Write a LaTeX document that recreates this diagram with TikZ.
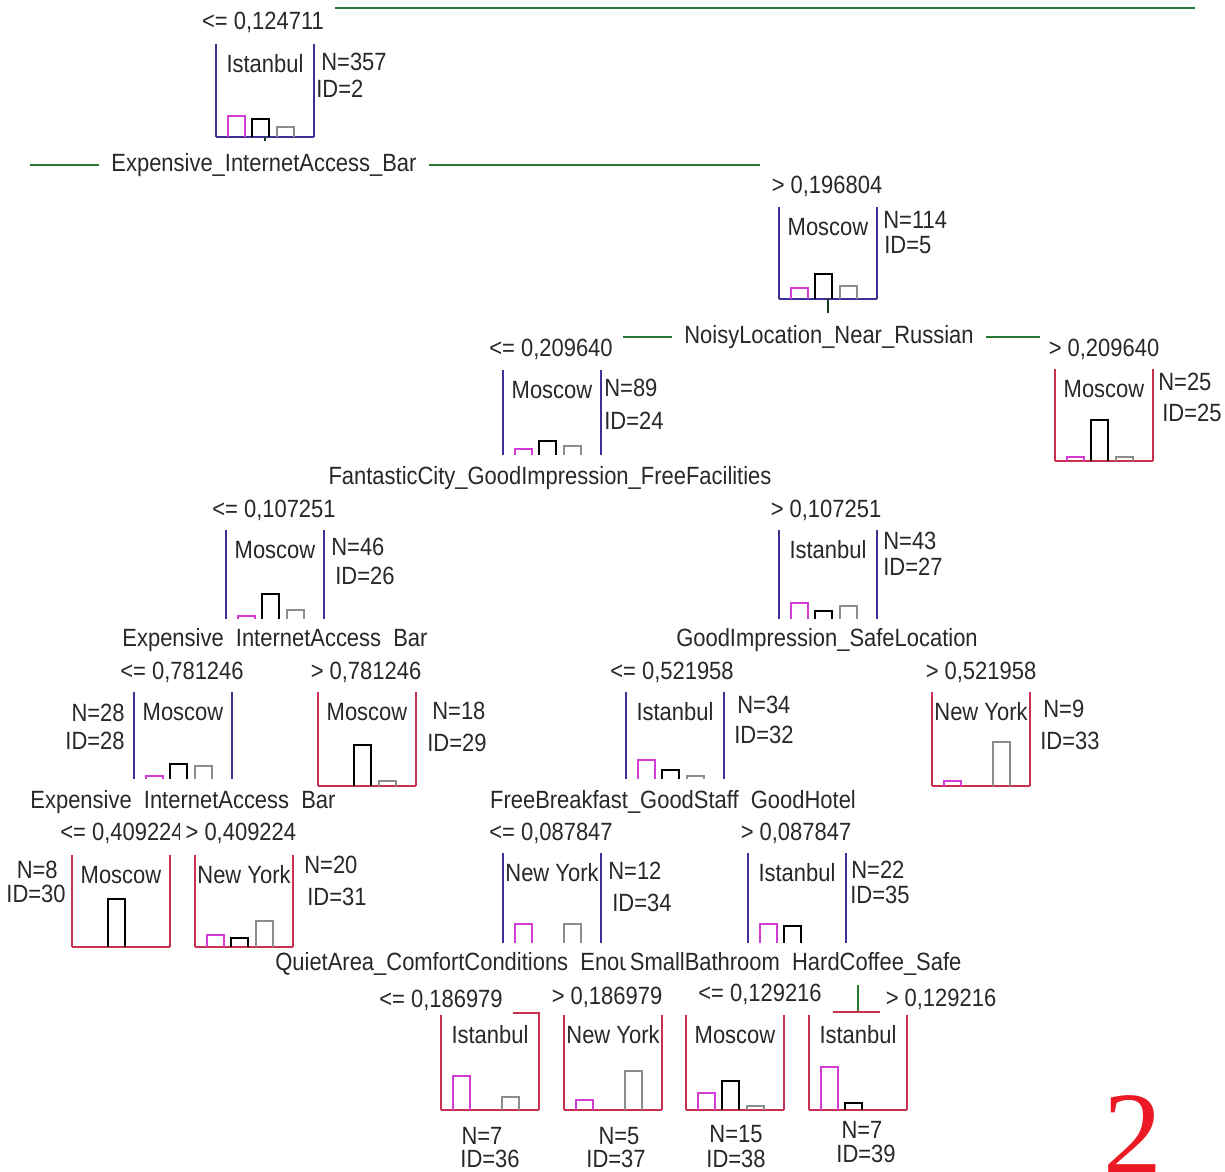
\documentclass[tikz,border=0pt]{standalone}
\usepackage{fontspec}
\setmainfont{Liberation Sans}[FakeStretch=0.88]
\newfontfamily\twofont{Liberation Serif}
\usepackage{xcolor}
\usepackage{tikz}
\usetikzlibrary{calc,positioning}

\definecolor{boxblue}{RGB}{60,50,150}
\definecolor{boxred}{RGB}{200,50,80}
\definecolor{barmag}{RGB}{210,60,210}
\definecolor{bargray}{RGB}{140,140,140}
\definecolor{linegreen}{RGB}{40,120,50}
\definecolor{textgray}{RGB}{40,40,40}
\definecolor{twored}{RGB}{235,25,35}

\newcommand{\treefont}{\fontsize{14.2}{16}\selectfont}
\newcommand{\hu}{\phantom{\_}}

\tikzset{
  txt/.style={inner sep=0pt, text=textgray, font=\treefont},
  splitlabel/.style={txt, inner xsep=0.25cm},
  inner/.style={draw=boxblue, line width=0.9pt},
  leaf/.style={draw=boxred, line width=0.9pt},
  base/.style={},
  cut/.style={inner, base/.style={draw=none}},
  mbar/.style={draw=barmag, line width=0.9pt},
  kbar/.style={draw=black, line width=0.9pt},
  gbar/.style={draw=bargray, line width=0.9pt},
  split/.style={draw=linegreen, line width=0.9pt},
  stem/.style={draw=linegreen!50!black, line width=0.9pt},
}

% tree node: name, box style, left x, top y, bottom y, class, bar heights
\newcommand{\tnode}[9]{%
  \coordinate (#1-nw) at (#3,#4);
  \coordinate (#1-sw) at (#3,#5);
  \coordinate (#1-ne) at ({#3+98},#4);
  \coordinate (#1-se) at ({#3+98},#5);
  \coordinate (#1-s) at ({#3+49},#5);
  \draw[#2] (#1-nw) -- (#1-sw) (#1-se) -- (#1-ne);
  \draw[#2,base] (#1-sw) -- (#1-se);
  \node[txt] (#1-cls) at ({#3+49},{#4+20}) {#6};
  \ifdim #7pt>0pt \draw[mbar] ({#3+12},#5) |- ({#3+29},{#5-#7}) -- ({#3+29},#5);\fi
  \ifdim #8pt>0pt \draw[kbar] ({#3+36},#5) |- ({#3+53},{#5-#8}) -- ({#3+53},#5);\fi
  \ifdim #9pt>0pt \draw[gbar] ({#3+61},#5) |- ({#3+78},{#5-#9}) -- ({#3+78},#5);\fi
}

\begin{document}
\begin{tikzpicture}[x=0.02cm, y=-0.02cm]
\useasboundingbox (0,0) rectangle (1225,1172);
\clip (0,0) rectangle (1225,1172);

\coordinate (r0) at (335,8);
\coordinate (r1) at (1195,8);
\draw[split] (r0) -- (r1);

\tnode{b2}{inner}{216}{44}{137}{Istanbul}{21}{18}{10}
\node[txt] (t2) at (263,22) {<= 0,124711};
\node[txt, anchor=west] (n2) at (321,62) {N=357};
\node[txt, anchor=west] (i2) at (316,89) {ID=2};
\coordinate (st2) at (265,141);
\draw[stem] (b2-s) -- (st2);

\node[splitlabel] (s1) at (264,165) {Expensive\_InternetAccess\_Bar};
\coordinate (s1l) at (30,165);
\coordinate (s1r) at (760,165);
\draw[split] (s1l) -- (s1.west);
\draw[split] (s1.east) -- (s1r);

\tnode{b5}{inner}{779}{207}{299}{Moscow}{11}{25}{13}
\node[txt] (t5) at (827,186) {> 0,196804};
\node[txt, anchor=west] (n5) at (883,220) {N=114};
\node[txt, anchor=west] (i5) at (884,245) {ID=5};
\coordinate (st5) at (828,313);
\draw[stem] (b5-s) -- (st5);

\node[splitlabel] (s2) at (829,337) {NoisyLocation\_Near\_Russian};
\coordinate (s2l) at (623,337);
\coordinate (s2r) at (1040,337);
\draw[split] (s2l) -- (s2.west);
\draw[split] (s2.east) -- (s2r);

\tnode{b24}{cut}{503}{370}{455}{Moscow}{6}{14}{9}
\node[txt] (t24) at (551,349) {<= 0,209640};
\node[txt, anchor=west] (n24) at (604,388) {N=89};
\node[txt, anchor=west] (i24) at (604,421) {ID=24};

\tnode{b25}{leaf}{1055}{369}{461}{Moscow}{4}{41}{4}
\node[txt] (t25) at (1104,349) {> 0,209640};
\node[txt, anchor=west] (n25) at (1158,382) {N=25};
\node[txt, anchor=west] (i25) at (1162,413) {ID=25};

\node[splitlabel] (s3) at (550,478) {FantasticCity\_GoodImpression\_FreeFacilities};

\tnode{b26}{cut}{226}{530}{619}{Moscow}{3}{25}{9}
\node[txt] (t26) at (274,510) {<= 0,107251};
\node[txt, anchor=west] (n26) at (331,547) {N=46};
\node[txt, anchor=west] (i26) at (335,576) {ID=26};

\tnode{b27}{cut}{779}{530}{619}{Istanbul}{16}{8}{13}
\node[txt] (t27) at (826,510) {> 0,107251};
\node[txt, anchor=west] (n27) at (883,541) {N=43};
\node[txt, anchor=west] (i27) at (883,567) {ID=27};

\node[splitlabel] (s4) at (275,640) {Expensive\hu InternetAccess\hu Bar};
\node[splitlabel] (s5) at (827,640) {GoodImpression\_SafeLocation};

\tnode{b28}{cut}{134}{692}{779}{Moscow}{3}{15}{13}
\node[txt] (t28) at (182,672) {<= 0,781246};
\node[txt, anchor=east] (n28) at (125,713) {N=28};
\node[txt, anchor=east] (i28) at (125,741) {ID=28};

\tnode{b29}{leaf}{318}{692}{786}{Moscow}{0}{41}{5}
\node[txt] (t29) at (366,672) {> 0,781246};
\node[txt, anchor=west] (n29) at (432,711) {N=18};
\node[txt, anchor=west] (i29) at (427,743) {ID=29};

\tnode{b32}{cut}{626}{692}{779}{Istanbul}{19}{9}{3}
\node[txt] (t32) at (672,672) {<= 0,521958};
\node[txt, anchor=west] (n32) at (737,705) {N=34};
\node[txt, anchor=west] (i32) at (734,735) {ID=32};

\tnode{b33}{leaf}{932}{692}{786}{New York}{5}{0}{44}
\node[txt] (t33) at (981,672) {> 0,521958};
\node[txt, anchor=west] (n33) at (1043,709) {N=9};
\node[txt, anchor=west] (i33) at (1040,741) {ID=33};

\node[splitlabel] (s6) at (183,802) {Expensive\hu InternetAccess\hu Bar};
\node[splitlabel] (s7) at (673,802) {FreeBreakfast\_GoodStaff\hu GoodHotel};

\tnode{b30}{leaf}{72}{855}{947}{Moscow}{0}{48}{0}
\node[txt, anchor=west] (t30) at (60,833) {<= 0,409224};
\node[txt, anchor=east] (n30) at (58,870) {N=8};
\node[txt, anchor=east] (i30) at (66,894) {ID=30};

\tnode{b31}{leaf}{195}{855}{947}{New York}{12}{9}{26}
\node[txt, fill=white, inner xsep=3pt, anchor=west] (t31) at (180,833) {> 0,409224};
\node[txt, anchor=west] (n31) at (304,865) {N=20};
\node[txt, anchor=west] (i31) at (307,897) {ID=31};

\tnode{b34}{cut}{503}{853}{943}{New York}{19}{0}{19}
\node[txt] (t34) at (551,833) {<= 0,087847};
\node[txt, anchor=west] (n34) at (608,871) {N=12};
\node[txt, anchor=west] (i34) at (612,903) {ID=34};

\tnode{b35}{cut}{748}{853}{943}{Istanbul}{19}{17}{0}
\node[txt] (t35) at (796,833) {> 0,087847};
\node[txt, anchor=west] (n35) at (851,870) {N=22};
\node[txt, anchor=west] (i35) at (850,895) {ID=35};

\node[txt, anchor=west] (s8) at (275,964) {QuietArea\_ComfortConditions\hu Enou};
\node[txt, fill=white, inner xsep=2pt, anchor=west] (s9) at (626,964) {SmallBathroom\hu HardCoffee\_Safe};

\tnode{b36}{leaf}{441}{1015}{1110}{Istanbul}{34}{0}{13}
\node[txt] (t36) at (441,1000) {<= 0,186979};
\node[txt] (n36) at (482,1136) {N=7};
\node[txt] (i36) at (490,1159) {ID=36};
\coordinate (k36) at (513,1013);
\draw[leaf] (k36) -| (b36-ne);

\tnode{b37}{leaf}{564}{1015}{1110}{New York}{10}{0}{39}
\node[txt] (t37) at (607,997) {> 0,186979};
\node[txt] (n37) at (619,1136) {N=5};
\node[txt] (i37) at (616,1159) {ID=37};

\tnode{b38}{leaf}{686}{1015}{1110}{Moscow}{17}{29}{4}
\node[txt] (t38) at (760,994) {<= 0,129216};
\node[txt] (n38) at (736,1134) {N=15};
\node[txt] (i38) at (736,1159) {ID=38};

\tnode{b39}{leaf}{809}{1015}{1110}{Istanbul}{43}{7}{0}
\node[txt] (t39) at (941,999) {> 0,129216};
\node[txt] (n39) at (862,1130) {N=7};
\node[txt] (i39) at (866,1154) {ID=39};
\coordinate (k39) at (858,1012);
\coordinate (k39a) at (858,985);
\coordinate (k39l) at (833,1012);
\coordinate (k39r) at (880,1012);
\draw[split] (k39a) -- (k39);
\draw[leaf] (k39l) -- (k39r);

\node[anchor=base, inner sep=0pt, text=twored, font=\twofont\fontsize{67}{67}\selectfont] (pg) at (1133,1173) {2};
\end{tikzpicture}
\end{document}
